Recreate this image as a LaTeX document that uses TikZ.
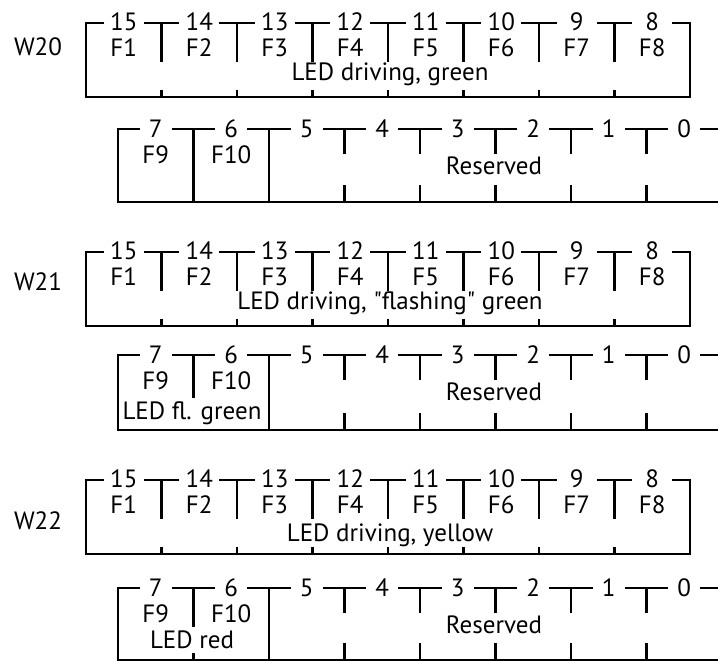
\documentclass[tikz,border=0pt]{standalone}
\usepackage{fontspec}
\setmainfont{PT Sans}[Ligatures=TeXOff]
\usetikzlibrary{positioning}

\begin{document}
\begin{tikzpicture}[x=1pt, y=-1pt,
  reg/.style={line width=2.6pt, line join=miter},
  testo/.style={inner sep=0pt, font=\fontsize{25}{27}\selectfont},
  bitalto/.style={testo, fill=white, minimum width=40pt, minimum height=14pt},
  bitbasso/.style={testo, fill=white, minimum width=32pt, minimum height=14pt}]
  \useasboundingbox (0,0) rectangle (718,661);

  % Registri W20, W21, W22
  \foreach \nome/\ya/\yb/\yc/\wy/\ym/\scritta in {%
      W20/23/129/202/47/74/{LED driving, green},
      W21/252/355/430/282/303/{LED driving, "flashing" green},
      W22/480/588/660/521/535/{LED driving, yellow}} {
    \node[testo] (\nome) at (38,\wy) {\nome};

    % Byte alto
    \draw[reg] (86,\ya) rectangle (690,{\ya+74});
    \foreach \i in {1,...,7} {
      \draw[reg] ({86+75.5*\i},\ya) -- ++(0,39);
      \draw[reg] ({86+75.5*\i},{\ya+67}) -- ++(0,7);
    }
    \foreach \n/\f [count=\i from 0] in {15/F1,14/F2,13/F3,12/F4,11/F5,10/F6,9/F7,8/F8} {
      \node[bitalto] (\nome-b\n) at ({123.75+75.5*\i},{\ya-1}) {\n};
      \node[testo] (\nome-\f) at ({123.75+75.5*\i},{\ya+25}) {\f};
    }
    \node[testo] (\nome-alto) at (390,\ym) {\scritta};

    % Byte basso
    \draw[reg] (720,\yb) -- (118,\yb) -- (118,\yc) -- (720,\yc);
    \draw[reg] (269,\yb) -- (269,\yc);
    \foreach \i in {3,...,7} {
      \draw[reg] ({118+75.5*\i},\yb) -- ++(0,25);
      \draw[reg] ({118+75.5*\i},{\yc-17}) -- ({118+75.5*\i},\yc);
    }
    \foreach \n [count=\i from 0] in {7,...,0}
      \node[bitbasso] (\nome-b\n) at ({155.75+75.5*\i},\yb) {\n};
    \node[testo] (\nome-F9) at (155.75,{\yb+26}) {F9};
    \node[testo] (\nome-F10) at (231.25,{\yb+26}) {F10};
    \node[testo] (\nome-ris) at (494,{\yb+37}) {Reserved};
  }

  % Divisori tra bit 7 e 6
  \draw[reg] (193.5,129) -- (193.5,202);
  \draw[reg] (193.5,355) -- ++(0,43);
  \draw[reg] (193.5,588) -- ++(0,39);
  \draw[reg] (193.5,653) -- (193.5,660);

  % Testi LED del byte basso
  \node[testo] (W21-led) at (192,413) {LED fl. green};
  \node[testo] (W22-led) at (192,640) {LED red};
\end{tikzpicture}
\end{document}
